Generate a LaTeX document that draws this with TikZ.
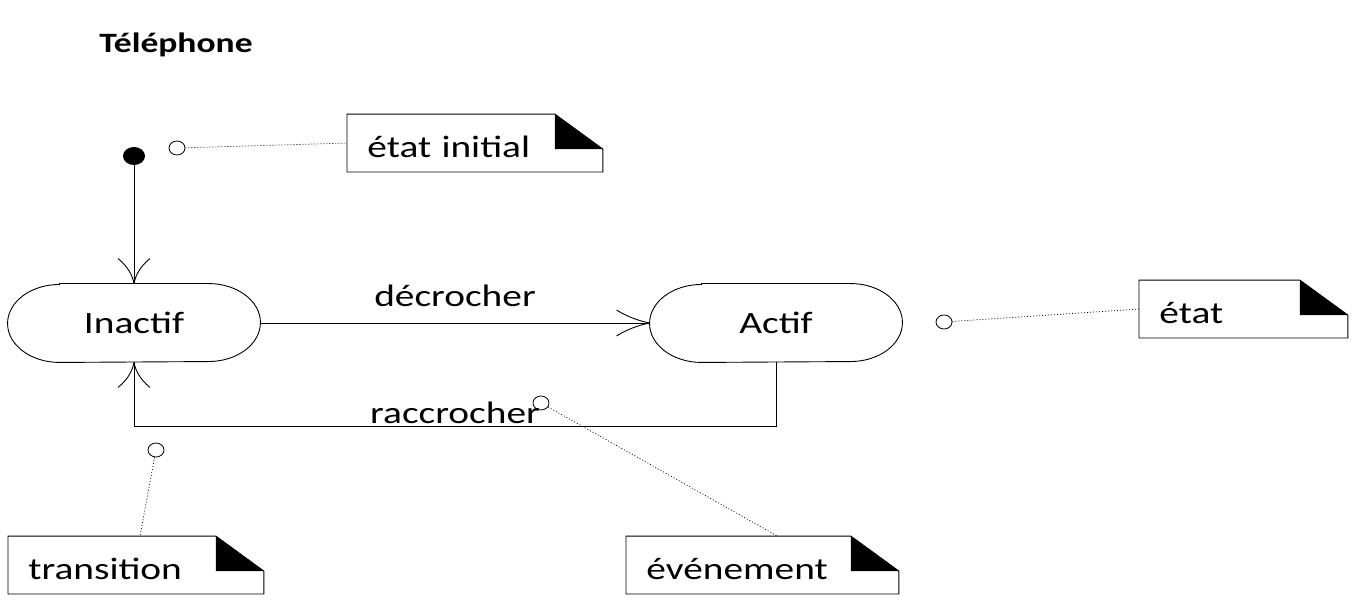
\documentclass[tikz,border=0pt]{standalone}
\usepackage{fontspec}
\setmainfont{Carlito}[FakeStretch=1.27]
\usetikzlibrary{shapes.geometric}
\newcommand\dogear[1]{%
  \draw[line width=0.9pt] (#1.north west) -- ([xshift=-48pt]#1.north east) -- ([yshift=-35pt]#1.north east) -- (#1.south east) -- (#1.south west) -- cycle;
  \fill ([xshift=-48pt]#1.north east) -- ([xshift=-48pt,yshift=-35pt]#1.north east) -- ([yshift=-35pt]#1.north east) -- cycle;}
\newcommand\stadium[1]{%
  \draw[line width=0.9pt] ([xshift=52pt]#1.north west) -- ([xshift=-52pt]#1.north east) arc[start angle=90,end angle=-90,x radius=52pt,y radius=39pt] -- ([xshift=52pt]#1.south west) arc[start angle=270,end angle=90,x radius=52pt,y radius=39pt] -- cycle;}
\begin{document}
\begin{tikzpicture}[x=1pt,y=1pt,line width=0.9pt,
  txt/.style={font=\fontsize{31}{36}\selectfont, inner sep=0pt},
  statebox/.style={txt, minimum width=252pt, minimum height=78pt},
  notebox/.style={txt, anchor=south west, minimum height=57pt, inner xsep=20pt, align=left, text height=29pt, text depth=0pt},
  hole/.style={draw, ellipse, minimum width=16pt, minimum height=14pt, inner sep=0pt, line width=0.8pt},
  dots/.style={line width=0.7pt, dash pattern=on 1pt off 2pt},
  barbright/.pic={\draw (0,0) .. controls (-10,-2) and (-22,-6) .. (-33,-13);
                  \draw (0,0) .. controls (-10,2) and (-22,6) .. (-33,13);},
  barbdown/.pic={\draw (0,0) .. controls (1.5,8) and (6,17) .. (16,25);
                 \draw (0,0) .. controls (-1.5,8) and (-6,17) .. (-16,25);},
  barbup/.pic={\draw (0,0) .. controls (1.5,-8) and (6,-17) .. (16,-25);
               \draw (0,0) .. controls (-1.5,-8) and (-6,-17) .. (-16,-25);}
]
\fill[white] (0,0) rectangle (1359,603);
\useasboundingbox (0,0) rectangle (1359,603);

\node[font=\fontsize{28}{32}\selectfont\bfseries, inner sep=0pt] (title) at (176,558) {Téléphone};

\node[fill, ellipse, minimum width=22pt, minimum height=18pt, inner sep=0pt] (init) at (134,447) {};
\node[hole] (c1) at (177,455) {};
\node[notebox, text width=215pt] (n1) at (347,431) {état initial};
\dogear{n1}

\node[statebox] (inactif) at (134,280) {Inactif};
\stadium{inactif}
\node[statebox] (actif) at (776,280) {Actif};
\stadium{actif}

\node[txt] (lbl1) at (455,307) {décrocher};
\node[txt] (lbl2) at (455,190) {raccrocher};

\draw (init) -- (inactif.north);
\pic at (inactif.north) {barbdown};
\draw (inactif.east) -- (actif.west);
\pic at (actif.west) {barbright};
\draw (actif.south) -- ++(0,-64) -| (inactif.south);
\pic at (inactif.south) {barbup};

\node[hole] (c2) at (541,200) {};
\node[hole] (c3) at (156,153) {};
\node[hole] (c4) at (944,281) {};

\node[notebox, text width=215pt] (n2) at (8,9) {transition};
\dogear{n2}
\node[notebox, text width=232pt] (n3) at (626,9) {événement};
\dogear{n3}
\node[notebox, text width=168pt] (n4) at (1139,265) {état};
\dogear{n4}

\draw[dots] (c1) -- (n1.west);
\draw[dots] (c4) -- (n4.west);
\draw[dots] (c2) -- ([xshift=15pt]n3.north);
\draw[dots] (c3) -- ([xshift=4pt]n2.north);
\end{tikzpicture}
\end{document}
